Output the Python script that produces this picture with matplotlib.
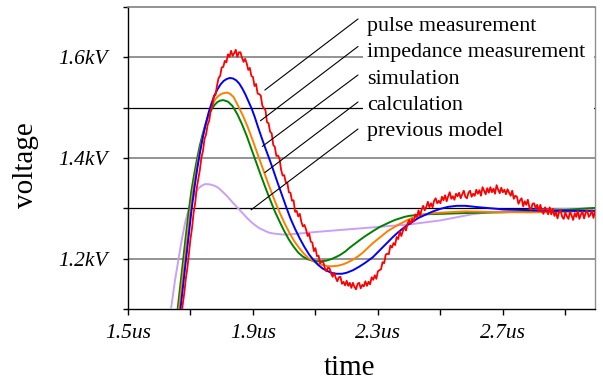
import numpy as np
import matplotlib
matplotlib.use("Agg")
import matplotlib.pyplot as plt
from matplotlib.patches import Rectangle

plt.rcParams['font.family'] = ['Liberation Serif', 'DejaVu Serif']

# ---------------- data (time in us, voltage in kV) ----------------
calc_t = [1.650, 1.659, 1.668, 1.677, 1.686, 1.695, 1.703, 1.712, 1.721, 1.730, 1.738, 1.746, 1.754,
          1.762, 1.770, 1.778, 1.786, 1.795, 1.805, 1.820, 1.835, 1.850, 1.865, 1.880, 1.895, 1.910,
          1.925, 1.940, 1.955, 1.970, 1.985, 2.000, 2.015, 2.030, 2.045, 2.060, 2.075, 2.090, 2.105,
          2.120, 2.135, 2.150, 2.165, 2.178, 2.195, 2.210, 2.225, 2.242, 2.260, 2.275, 2.290, 2.306,
          2.323, 2.340, 2.355, 2.370, 2.385, 2.400, 2.420, 2.440, 2.470, 2.500, 2.600, 2.700, 2.800,
          2.900, 3.000]
calc_v = [1.05, 1.10, 1.15, 1.20, 1.25, 1.297, 1.335, 1.368, 1.398, 1.425, 1.445, 1.463, 1.478,
          1.490, 1.499, 1.506, 1.511, 1.514, 1.515, 1.512, 1.503, 1.487, 1.467, 1.444, 1.418, 1.392,
          1.366, 1.341, 1.317, 1.294, 1.274, 1.255, 1.238, 1.224, 1.212, 1.204, 1.199, 1.196, 1.195,
          1.195, 1.196, 1.199, 1.203, 1.207, 1.214, 1.222, 1.229, 1.237, 1.245, 1.251, 1.257, 1.263,
          1.268, 1.273, 1.277, 1.280, 1.283, 1.285, 1.2865, 1.2875, 1.2885, 1.289, 1.291, 1.292, 1.294,
          1.297, 1.301]

sim_t = [1.655, 1.663, 1.673, 1.682, 1.691, 1.700, 1.708, 1.717, 1.726, 1.735, 1.744, 1.753, 1.762,
         1.771, 1.780, 1.789, 1.798, 1.807, 1.816, 1.826, 1.838, 1.853, 1.868, 1.883, 1.898, 1.913,
         1.928, 1.943, 1.958, 1.973, 1.988, 2.003, 2.018, 2.033, 2.048, 2.063, 2.078, 2.093, 2.108,
         2.125, 2.140, 2.156, 2.172, 2.190, 2.205, 2.220, 2.235, 2.250, 2.267, 2.284, 2.300, 2.316,
         2.332, 2.348, 2.364, 2.380, 2.395, 2.410, 2.430, 2.450, 2.470, 2.490, 2.520, 2.580, 2.650,
         2.786, 2.900, 3.000]
sim_v = [1.06, 1.10, 1.153, 1.20, 1.25, 1.297, 1.335, 1.370, 1.402, 1.430, 1.455, 1.476, 1.494,
         1.507, 1.517, 1.523, 1.527, 1.529, 1.530, 1.528, 1.521, 1.503, 1.484, 1.462, 1.437, 1.411,
         1.385, 1.359, 1.334, 1.310, 1.288, 1.268, 1.250, 1.234, 1.221, 1.210, 1.201, 1.195, 1.190,
         1.187, 1.185, 1.185, 1.186, 1.189, 1.193, 1.198, 1.204, 1.211, 1.221, 1.231, 1.239, 1.247,
         1.255, 1.261, 1.267, 1.272, 1.277, 1.281, 1.285, 1.288, 1.290, 1.291, 1.292, 1.294, 1.293,
         1.292, 1.293, 1.295]

imp_t = [1.660, 1.668, 1.677, 1.686, 1.695, 1.704, 1.713, 1.722, 1.731, 1.740, 1.749, 1.758, 1.767,
         1.776, 1.786, 1.796, 1.806, 1.816, 1.826, 1.836, 1.846, 1.856, 1.866, 1.876, 1.886, 1.896,
         1.906, 1.917, 1.928, 1.940, 1.952, 1.964, 1.976, 1.988, 2.000, 2.008, 2.020, 2.035, 2.050,
         2.065, 2.080, 2.093, 2.108, 2.124, 2.140, 2.155, 2.168, 2.185, 2.200, 2.220, 2.240, 2.260,
         2.284, 2.300, 2.316, 2.332, 2.348, 2.364, 2.380, 2.395, 2.410, 2.430, 2.455, 2.477, 2.500,
         2.525, 2.553, 2.580, 2.626, 2.700, 2.754, 2.850, 3.000]
imp_v = [1.07, 1.10, 1.15, 1.20, 1.25, 1.30, 1.342, 1.380, 1.413, 1.443, 1.468, 1.490, 1.508,
         1.523, 1.536, 1.546, 1.553, 1.557, 1.559, 1.558, 1.5545, 1.548, 1.538, 1.526, 1.512, 1.498,
         1.481, 1.460, 1.440, 1.419, 1.399, 1.378, 1.356, 1.335, 1.314, 1.300, 1.280, 1.259, 1.240,
         1.223, 1.208, 1.198, 1.188, 1.180, 1.175, 1.171, 1.170, 1.170, 1.172, 1.177, 1.184, 1.192,
         1.203, 1.213, 1.223, 1.233, 1.243, 1.252, 1.260, 1.267, 1.273, 1.281, 1.288, 1.294, 1.299,
         1.303, 1.305, 1.305, 1.302, 1.298, 1.297, 1.295, 1.295]

prev_t = [1.630, 1.640, 1.650, 1.662, 1.672, 1.683, 1.695, 1.706, 1.716, 1.726, 1.736, 1.746, 1.756,
          1.766, 1.776, 1.786, 1.796, 1.806, 1.816, 1.826, 1.836, 1.848, 1.860, 1.872, 1.884, 1.896,
          1.908, 1.922, 1.936, 1.950, 1.965, 1.980, 1.995, 2.012, 2.030, 2.050, 2.100, 2.200, 2.300,
          2.400, 2.450, 2.500, 2.550, 2.600, 2.650, 2.750, 2.850, 3.000]
prev_v = [1.07, 1.11, 1.155, 1.20, 1.237, 1.272, 1.300, 1.318, 1.331, 1.340, 1.345, 1.348, 1.348,
          1.347, 1.345, 1.342, 1.337, 1.331, 1.325, 1.318, 1.311, 1.303, 1.295, 1.287, 1.279, 1.272,
          1.266, 1.260, 1.256, 1.252, 1.250, 1.249, 1.248, 1.248, 1.249, 1.250, 1.253, 1.258, 1.263,
          1.268, 1.272, 1.276, 1.282, 1.288, 1.292, 1.296, 1.298, 1.300]

# pulse measurement (noisy trace), sampled every 0.005 us starting at 1.660 us
pulse_t0 = 1.660
pulse_dt = 0.005
pulse_v = [1.030, 1.057, 1.078, 1.108, 1.131, 1.160, 1.181, 1.211, 1.239, 1.261,
           1.291, 1.310, 1.340, 1.358, 1.376, 1.401, 1.414, 1.438, 1.447, 1.466,
           1.474, 1.495, 1.503, 1.524, 1.525, 1.544, 1.559, 1.563, 1.580, 1.581,
           1.593, 1.590, 1.606, 1.601, 1.613, 1.603, 1.608, 1.615, 1.601, 1.610,
           1.610, 1.599, 1.591, 1.597, 1.588, 1.575, 1.579, 1.563, 1.561, 1.543,
           1.547, 1.528, 1.527, 1.524, 1.504, 1.499, 1.495, 1.471, 1.469, 1.452,
           1.449, 1.426, 1.422, 1.404, 1.405, 1.399, 1.377, 1.365, 1.366, 1.352,
           1.351, 1.332, 1.331, 1.315, 1.316, 1.293, 1.295, 1.284, 1.289, 1.273,
           1.264, 1.267, 1.258, 1.245, 1.250, 1.234, 1.232, 1.215, 1.221, 1.205,
           1.206, 1.191, 1.194, 1.194, 1.181, 1.175, 1.182, 1.181, 1.171, 1.164,
           1.172, 1.162, 1.155, 1.163, 1.164, 1.150, 1.154, 1.147, 1.156, 1.146,
           1.152, 1.142, 1.152, 1.144, 1.139, 1.150, 1.152, 1.141, 1.148, 1.145,
           1.155, 1.146, 1.154, 1.149, 1.163, 1.158, 1.167, 1.160, 1.175, 1.177,
           1.179, 1.193, 1.191, 1.208, 1.210, 1.209, 1.226, 1.222, 1.231, 1.227,
           1.243, 1.239, 1.254, 1.245, 1.255, 1.263, 1.256, 1.270, 1.277, 1.269,
           1.279, 1.274, 1.288, 1.283, 1.296, 1.286, 1.297, 1.305, 1.296, 1.303,
           1.313, 1.302, 1.310, 1.302, 1.315, 1.320, 1.310, 1.315, 1.310, 1.323,
           1.316, 1.326, 1.314, 1.324, 1.332, 1.319, 1.324, 1.317, 1.329, 1.324,
           1.331, 1.320, 1.328, 1.335, 1.323, 1.320, 1.331, 1.335, 1.323, 1.329,
           1.325, 1.337, 1.329, 1.336, 1.325, 1.342, 1.335, 1.328, 1.340, 1.331,
           1.342, 1.332, 1.339, 1.329, 1.346, 1.337, 1.330, 1.341, 1.332, 1.337,
           1.328, 1.338, 1.331, 1.325, 1.335, 1.319, 1.325, 1.323, 1.309, 1.316,
           1.320, 1.304, 1.314, 1.307, 1.317, 1.302, 1.297, 1.309, 1.310, 1.300,
           1.307, 1.294, 1.307, 1.295, 1.289, 1.302, 1.297, 1.288, 1.302, 1.288,
           1.299, 1.285, 1.292, 1.280, 1.293, 1.296, 1.283, 1.279, 1.292, 1.284,
           1.279, 1.293, 1.286, 1.277, 1.290, 1.283, 1.295, 1.279, 1.288, 1.293,
           1.280, 1.291, 1.296, 1.283, 1.287, 1.296, 1.281, 1.294, 1.287]
pulse_t = pulse_t0 + pulse_dt * np.arange(len(pulse_v))

labels = ["pulse measurement", "impedance measurement", "simulation", "calculation", "previous model"]
# points (time, voltage) where each leader line ends near its curve
leader_t = [1.938, 1.924, 1.930, 1.938, 1.894]
leader_v = [1.535, 1.474, 1.423, 1.371, 1.297]

y_major = [1.2, 1.4, 1.6]
y_minor = [1.1, 1.3, 1.5, 1.7]
y_labels = ["1.2kV", "1.4kV", "1.6kV"]
x_major = [1.5, 1.9, 2.3, 2.7]
x_minor = [1.7, 2.1, 2.5, 2.9]
x_labels = ["1.5us", "1.9us", "2.3us", "2.7us"]

# ---------------- figure ----------------
fig = plt.figure(figsize=(6.03, 3.81), dpi=100)
W, H = 603, 381
ax = fig.add_axes([128 / W, (H - 309) / H, (595 - 128) / W, (309 - 7) / H])
ax.set_xlim(1.5, 2.995)
ax.set_ylim(1.1, 1.7)

# grid lines
for y in [1.2, 1.4, 1.6]:
    ax.axhline(y, color='#808080', lw=1.2, zorder=1)
for y in [1.3, 1.5]:
    ax.axhline(y, color='black', lw=0.9, zorder=1)

# white box behind the label texts
ax.add_patch(Rectangle(((363 - 128) / 467, (309 - 145) / 302), (593.5 - 363) / 467, (145 - 11) / 302,
                       transform=ax.transAxes, facecolor='white', edgecolor='none', zorder=2))

lw = 1.4
ax.plot(prev_t, prev_v, color='#c9a0f5', lw=lw, zorder=3)
ax.plot(calc_t, calc_v, color='#008000', lw=lw, zorder=4)
ax.plot(sim_t, sim_v, color='#ff7f00', lw=lw, zorder=5)
ax.plot(imp_t, imp_v, color='#0000ff', lw=lw, zorder=6)
ax.plot(pulse_t, pulse_v, color='#ff0000', lw=1.3, zorder=7)

# labels with leader lines
text_y = [(309 - yb) / 302 for yb in [31.5, 57.5, 84, 110, 136]]
line_top = [(309 - yb) / 302 for yb in [19, 46.5, 75, 102, 129]]
for lab, lt, lv, ty, ly in zip(labels, leader_t, leader_v, text_y, line_top):
    ax.annotate("", xy=(lt, lv), xycoords='data', xytext=(0.4925, ly), textcoords='axes fraction',
                arrowprops=dict(arrowstyle='-', color='black', lw=0.8, shrinkA=0, shrinkB=0), zorder=8)
    ax.text((367 - 128) / 467, ty, lab, transform=ax.transAxes, fontsize=15.8,
            ha='left', va='baseline', zorder=9)

# spines
ax.spines['left'].set_color('black')
ax.spines['bottom'].set_color('black')
ax.spines['left'].set_linewidth(1.0)
ax.spines['bottom'].set_linewidth(1.0)
ax.spines['top'].set_color('#808080')
ax.spines['top'].set_linewidth(1.2)
ax.spines['right'].set_color('#909090')
ax.spines['right'].set_linewidth(1.0)

# ticks
ax.set_yticks(y_major)
ax.set_yticks(y_minor, minor=True)
ax.set_yticklabels(y_labels, fontstyle='italic', fontsize=15.5)
ax.set_xticks(x_major)
ax.set_xticks(x_minor, minor=True)
ax.set_xticklabels(x_labels, fontstyle='italic', fontsize=15.5)
ax.tick_params(axis='y', which='both', direction='out', length=3.5, width=1, pad=11)
ax.tick_params(axis='x', which='both', direction='out', length=4, width=1, pad=7)

fig.text(350 / W, (H - 375) / H, "time", fontsize=21, ha='center', va='baseline')
fig.text(33 / W, (H - 165) / H, "voltage", fontsize=21, rotation=90, ha='center', va='baseline',
         rotation_mode='anchor')

fig.savefig("out.png", dpi=100)
